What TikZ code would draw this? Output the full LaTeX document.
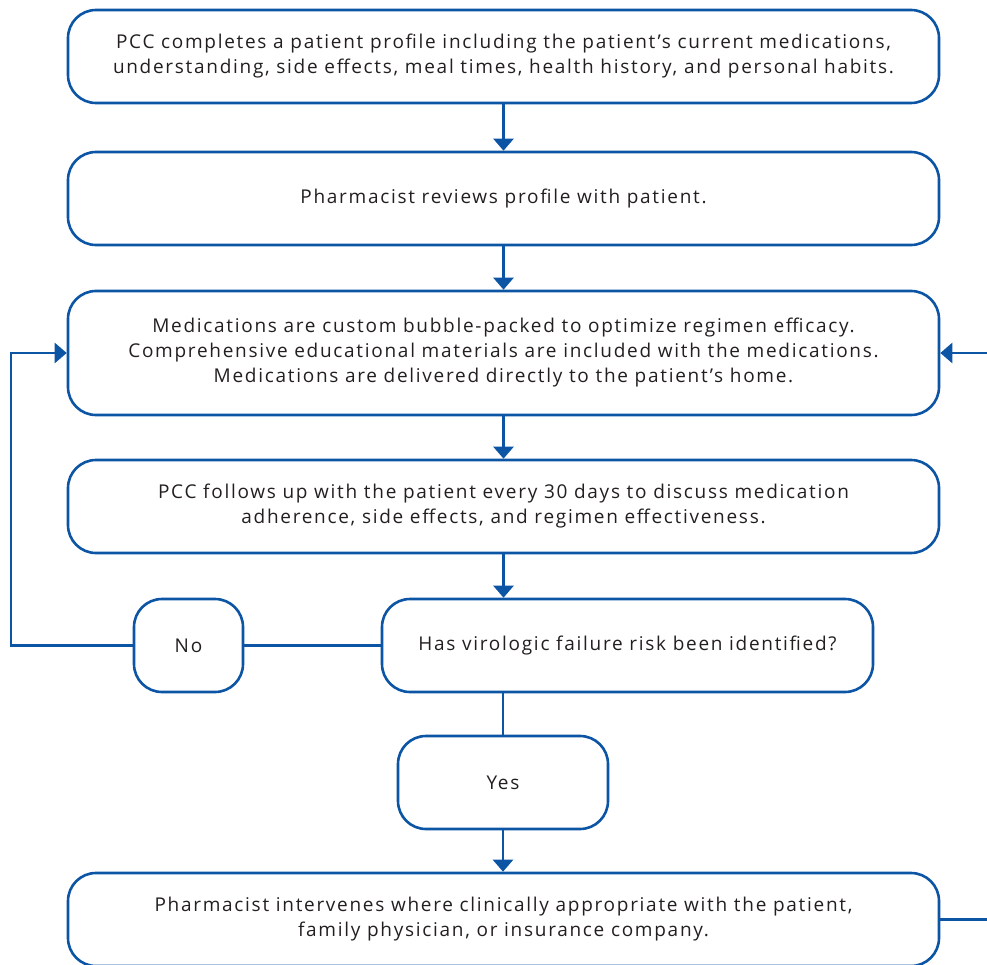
\documentclass[tikz,border=0pt]{standalone}
\usepackage{fontspec}
\setmainfont[LetterSpace=9]{Open Sans}
\usetikzlibrary{arrows.meta}
\definecolor{flowblue}{RGB}{12,84,164}
\definecolor{flowtext}{RGB}{35,31,32}
\begin{document}
\begin{tikzpicture}[x=1pt,y=-1pt,
                    box/.style = {draw=flowblue,line width=2.6pt,rounded corners=28pt,
                                  minimum height=93pt,align=center,text=flowtext,
                                  font=\fontsize{19}{25}\selectfont},
                    link/.style = {draw=flowblue,line width=2.6pt},
                    arrow/.style = {link,-{Triangle[width=20pt,length=12pt]}}]
                    \clip (0,0) rectangle (987,965);

                    \node[box,minimum width=871pt] (profile) at (503.5,56.5)
                        {PCC completes a patient profile including the patient’s current medications,\\
                         understanding, side effects, meal times, health history, and personal habits.};
                    \node[box,minimum width=871pt] (review) at (503.5,198.5)
                        {Pharmacist reviews profile with patient.};
                    \node[box,minimum width=871pt,minimum height=124pt] (pack) at (503.5,353)
                        {Medications are custom bubble-packed to optimize regimen efficacy.\\
                         Comprehensive educational materials are included with the medications.\\
                         Medications are delivered directly to the patient’s home.};
                    \node[box,minimum width=871pt] (follow) at (503.5,506.5)
                        {PCC follows up with the patient every 30 days to discuss medication\\
                         adherence, side effects, and regimen effectiveness.};
                    \node[box,minimum width=491pt] (risk) at (627.5,645.5)
                        {Has virologic failure risk been identified?};
                    \node[box,minimum width=109pt] (no) at (188.5,645.5) {No};
                    \node[box,minimum width=210pt] (yes) at (503,782.5) {Yes};
                    \node[box,minimum width=871pt] (intervene) at (503.5,919.5)
                        {Pharmacist intervenes where clinically appropriate with the patient,\\
                         family physician, or insurance company.};

                    \coordinate (lft) at (11,0);
                    \coordinate (rgt) at (1000,0);

                    \draw[arrow] (profile.south) -- (review.north);
                    \draw[arrow] (review.south) -- (pack.north);
                    \draw[arrow] (pack.south) -- (follow.north);
                    \draw[arrow] (follow.south) -- (follow.south |- risk.north);
                    \draw[link] (risk.west) -- (no.east);
                    \draw[link] (yes.north) -- (yes.north |- risk.south);
                    \draw[arrow] (yes.south) -- (yes.south |- intervene.north);
                    \draw[arrow] (no.west) -- (no.west -| lft) |- (pack.west);
                    \draw[arrow] (intervene.east) -- (intervene.east -| rgt) |- (pack.east);
                \end{tikzpicture}
\end{document}
